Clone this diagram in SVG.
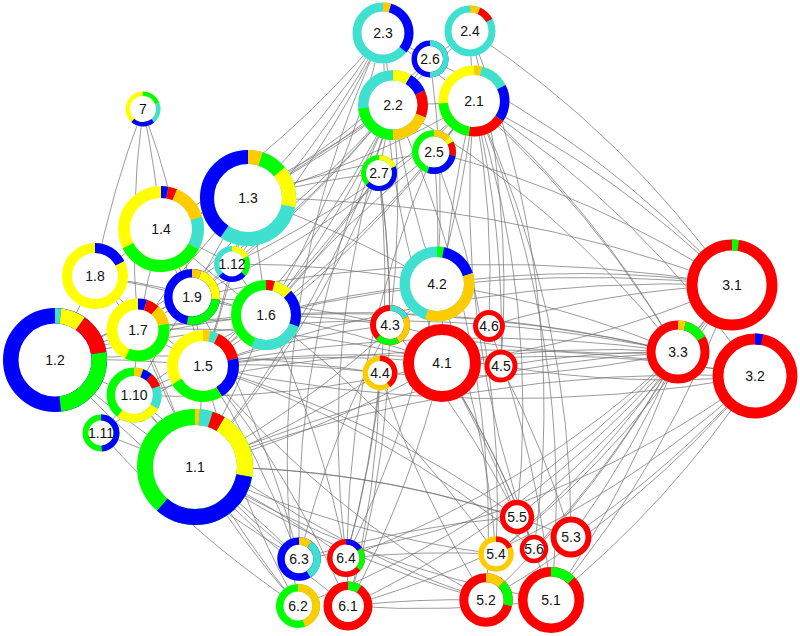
<svg xmlns="http://www.w3.org/2000/svg" width="800" height="636" viewBox="0 0 800 636">
<style>
.e path{fill:none;stroke:#707070;stroke-width:0.7}
.bg{fill:#fff;stroke:none}
.s{fill:none}
.b{stroke:#0000ff}.c{stroke:#40e0d0}.y{stroke:#ffff00}.o{stroke:#ffcc00}.r{stroke:#ff0000}.g{stroke:#00ff00}
text{font-family:"Liberation Sans",Arial,sans-serif;font-size:14px;text-anchor:middle;fill:#111;stroke:none}
</style>
<rect width="800" height="636" fill="#fff"/>
<g id="edges" class="e">
<path d="M143 109A1000 1000 0 0 0 95 276"/><path d="M143 109A1000 1000 0 0 1 161 229"/><path d="M143 109A1000 1000 0 0 0 138 330"/><path d="M143 109A1000 1000 0 0 1 192 297"/>
<path d="M55 360A1000 1000 0 0 1 138 330"/><path d="M55 360A1000 1000 0 0 1 203 366"/><path d="M55 360A1000 1000 0 0 0 134 395"/><path d="M55 360A1000 1000 0 0 0 195 467"/><path d="M55 360A1000 1000 0 0 1 95 276"/><path d="M55 360A1000 1000 0 0 1 192 297"/><path d="M55 360A1000 1000 0 0 1 266 315"/>
<path d="M95 276A1000 1000 0 0 1 138 330"/><path d="M95 276A1000 1000 0 0 1 192 297"/><path d="M95 276A1000 1000 0 0 1 161 229"/><path d="M95 276A1000 1000 0 0 0 203 366"/><path d="M95 276A1000 1000 0 0 1 266 315"/>
<path d="M161 229A1000 1000 0 0 1 192 297"/><path d="M161 229A1000 1000 0 0 0 138 330"/><path d="M161 229A1000 1000 0 0 1 203 366"/><path d="M161 229A1000 1000 0 0 1 232 264"/><path d="M161 229A1000 1000 0 0 0 266 315"/><path d="M161 229A1000 1000 0 0 1 248 198"/>
<path d="M248 198A1000 1000 0 0 1 232 264"/><path d="M248 198A1000 1000 0 0 1 266 315"/><path d="M248 198A1000 1000 0 0 0 192 297"/><path d="M248 198A1000 1000 0 0 1 203 366"/><path d="M248 198A1000 1000 0 0 0 138 330"/>
<path d="M232 264A1000 1000 0 0 1 266 315"/><path d="M232 264A1000 1000 0 0 0 192 297"/><path d="M232 264A1000 1000 0 0 1 203 366"/>
<path d="M192 297A1000 1000 0 0 0 138 330"/><path d="M192 297A1000 1000 0 0 1 203 366"/><path d="M192 297A1000 1000 0 0 1 266 315"/><path d="M192 297A1000 1000 0 0 0 134 395"/>
<path d="M138 330A1000 1000 0 0 1 203 366"/><path d="M138 330A1000 1000 0 0 0 134 395"/><path d="M138 330A1000 1000 0 0 1 195 467"/><path d="M138 330A1000 1000 0 0 1 266 315"/>
<path d="M203 366A1000 1000 0 0 0 134 395"/><path d="M203 366A1000 1000 0 0 1 195 467"/><path d="M203 366A1000 1000 0 0 1 266 315"/><path d="M203 366A1000 1000 0 0 0 101 433"/>
<path d="M266 315A1000 1000 0 0 1 195 467"/><path d="M266 315A1000 1000 0 0 0 134 395"/><path d="M134 395A1000 1000 0 0 0 101 433"/><path d="M134 395A1000 1000 0 0 0 195 467"/><path d="M101 433A1000 1000 0 0 0 195 467"/>
<path d="M248 198A1000 1000 0 0 0 393 105"/><path d="M248 198A1000 1000 0 0 0 383 33"/><path d="M248 198A1000 1000 0 0 0 474 101"/><path d="M248 198A1000 1000 0 0 1 379 173"/><path d="M248 198A1000 1000 0 0 1 434 152"/><path d="M248 198A1000 1000 0 0 0 430 59"/><path d="M248 198A1000 1000 0 0 0 470 31"/>
<path d="M266 315A1000 1000 0 0 0 393 105"/><path d="M266 315A1000 1000 0 0 0 474 101"/><path d="M266 315A1000 1000 0 0 0 383 33"/><path d="M266 315A1000 1000 0 0 1 434 152"/><path d="M266 315A1000 1000 0 0 0 379 173"/>
<path d="M232 264A1000 1000 0 0 0 393 105"/><path d="M232 264A1000 1000 0 0 0 474 101"/><path d="M232 264A1000 1000 0 0 0 383 33"/>
<path d="M161 229A1000 1000 0 0 0 393 105"/><path d="M161 229A1000 1000 0 0 0 383 33"/>
<path d="M203 366A1000 1000 0 0 0 393 105"/><path d="M203 366A1000 1000 0 0 0 474 101"/><path d="M203 366A1000 1000 0 0 0 379 173"/>
<path d="M192 297A1000 1000 0 0 0 393 105"/><path d="M192 297A1000 1000 0 0 0 474 101"/>
<path d="M195 467A1000 1000 0 0 0 393 105"/><path d="M195 467A1000 1000 0 0 0 379 173"/><path d="M138 330A1000 1000 0 0 0 383 33"/><path d="M55 360A1000 1000 0 0 0 393 105"/>
<path d="M203 366A1400 1400 0 0 1 678 352"/><path d="M203 366A1400 1400 0 0 1 732 285"/><path d="M203 366A1400 1400 0 0 0 755 376"/><path d="M55 360A1400 1400 0 0 1 678 352"/><path d="M266 315A1400 1400 0 0 1 732 285"/><path d="M266 315A1400 1400 0 0 1 678 352"/>
<path d="M195 467A1400 1400 0 0 1 755 376"/><path d="M195 467A1400 1400 0 0 1 678 352"/><path d="M192 297A1400 1400 0 0 1 732 285"/><path d="M138 330A1400 1400 0 0 1 678 352"/><path d="M248 198A1400 1400 0 0 1 732 285"/><path d="M134 395A1400 1400 0 0 1 755 376"/>
<path d="M203 366A1000 1000 0 0 1 442 363"/><path d="M203 366A1000 1000 0 0 1 380 373"/><path d="M203 366A1000 1000 0 0 1 390 325"/><path d="M266 315A1000 1000 0 0 1 390 325"/><path d="M266 315A1000 1000 0 0 1 437 284"/><path d="M266 315A1000 1000 0 0 1 442 363"/>
<path d="M248 198A1000 1000 0 0 1 437 284"/><path d="M195 467A1000 1000 0 0 0 442 363"/><path d="M195 467A1000 1000 0 0 0 380 373"/><path d="M195 467A1000 1000 0 0 0 437 284"/><path d="M192 297A1000 1000 0 0 1 390 325"/><path d="M138 330A1000 1000 0 0 1 442 363"/>
<path d="M55 360A1400 1400 0 0 1 380 373"/><path d="M232 264A1000 1000 0 0 1 437 284"/><path d="M134 395A1000 1000 0 0 0 442 363"/><path d="M203 366A1000 1000 0 0 1 501 366"/>
<path d="M195 467A1000 1000 0 0 0 486 600"/><path d="M195 467A1000 1000 0 0 0 496 554"/><path d="M195 467A1000 1000 0 0 1 517 517"/><path d="M195 467A1000 1000 0 0 0 551 600"/><path d="M203 366A1000 1000 0 0 1 517 517"/>
<path d="M203 366A1000 1000 0 0 0 486 600"/><path d="M266 315A1000 1000 0 0 1 496 554"/><path d="M134 395A1000 1000 0 0 0 486 600"/><path d="M195 467A1000 1000 0 0 1 571 537"/><path d="M203 366A1000 1000 0 0 1 534 549"/>
<path d="M195 467A1000 1000 0 0 1 299 559"/><path d="M195 467A1000 1000 0 0 0 298 606"/><path d="M195 467A1000 1000 0 0 0 348 606"/><path d="M195 467A1000 1000 0 0 1 346 558"/><path d="M203 366A1000 1000 0 0 1 299 559"/><path d="M203 366A1000 1000 0 0 1 348 606"/>
<path d="M134 395A1000 1000 0 0 0 299 559"/><path d="M55 360A1000 1000 0 0 0 299 559"/><path d="M138 330A1000 1000 0 0 0 298 606"/><path d="M266 315A1000 1000 0 0 1 346 558"/><path d="M101 433A1000 1000 0 0 0 298 606"/><path d="M192 297A1000 1000 0 0 1 299 559"/><path d="M203 366A1000 1000 0 0 0 298 606"/>
<path d="M474 101A1000 1000 0 0 1 393 105"/><path d="M474 101A1000 1000 0 0 1 470 31"/><path d="M393 105A1000 1000 0 0 1 383 33"/><path d="M393 105A1000 1000 0 0 1 430 59"/><path d="M474 101A1000 1000 0 0 1 434 152"/><path d="M393 105A1000 1000 0 0 0 379 173"/><path d="M383 33A1000 1000 0 0 1 430 59"/><path d="M470 31A1000 1000 0 0 1 430 59"/>
<path d="M474 101A1000 1000 0 0 1 732 285"/><path d="M474 101A1000 1000 0 0 1 678 352"/><path d="M470 31A1000 1000 0 0 1 732 285"/><path d="M393 105A1000 1000 0 0 1 678 352"/><path d="M474 101A1000 1000 0 0 1 755 376"/><path d="M434 152A1000 1000 0 0 1 732 285"/><path d="M383 33A1000 1000 0 0 1 678 352"/><path d="M430 59A1000 1000 0 0 1 732 285"/>
<path d="M474 101A1000 1000 0 0 1 437 284"/><path d="M474 101A1000 1000 0 0 1 489 326"/><path d="M474 101A1000 1000 0 0 1 501 366"/><path d="M474 101A1000 1000 0 0 0 442 363"/><path d="M393 105A1000 1000 0 0 1 390 325"/><path d="M434 152A1000 1000 0 0 1 437 284"/>
<path d="M379 173A1000 1000 0 0 1 390 325"/><path d="M393 105A1000 1000 0 0 0 437 284"/><path d="M383 33A1000 1000 0 0 0 442 363"/><path d="M470 31A1000 1000 0 0 1 501 366"/><path d="M430 59A1000 1000 0 0 1 437 284"/>
<path d="M474 101A1000 1000 0 0 1 517 517"/><path d="M474 101A1000 1000 0 0 1 551 600"/><path d="M474 101A1000 1000 0 0 1 571 537"/><path d="M434 152A1000 1000 0 0 1 496 554"/><path d="M393 105A1000 1000 0 0 1 486 600"/><path d="M470 31A1000 1000 0 0 1 534 549"/><path d="M474 101A1000 1000 0 0 0 534 549"/>
<path d="M379 173A1000 1000 0 0 1 346 558"/><path d="M379 173A1000 1000 0 0 1 348 606"/><path d="M393 105A1000 1000 0 0 0 299 559"/><path d="M383 33A1000 1000 0 0 0 298 606"/><path d="M434 152A1000 1000 0 0 0 348 606"/><path d="M393 105A1000 1000 0 0 0 346 558"/>
<path d="M732 285A1000 1000 0 0 1 678 352"/>
<path d="M678 352A1000 1000 0 0 0 442 363"/><path d="M678 352A1000 1000 0 0 0 501 366"/><path d="M732 285A1000 1000 0 0 0 437 284"/><path d="M732 285A1000 1000 0 0 1 442 363"/><path d="M755 376A1000 1000 0 0 1 501 366"/>
<path d="M678 352A1000 1000 0 0 1 380 373"/><path d="M732 285A1000 1000 0 0 0 489 326"/><path d="M755 376A1000 1000 0 0 0 442 363"/><path d="M678 352A1000 1000 0 0 0 437 284"/><path d="M678 352A1000 1000 0 0 1 390 325"/>
<path d="M678 352A1000 1000 0 0 1 551 600"/><path d="M678 352A1000 1000 0 0 1 486 600"/><path d="M678 352A1000 1000 0 0 1 571 537"/><path d="M678 352A1000 1000 0 0 1 496 554"/><path d="M755 376A1000 1000 0 0 1 551 600"/><path d="M755 376A1000 1000 0 0 1 571 537"/>
<path d="M732 285A1000 1000 0 0 1 551 600"/><path d="M732 285A1000 1000 0 0 1 517 517"/><path d="M755 376A1000 1000 0 0 1 486 600"/><path d="M678 352A1000 1000 0 0 1 534 549"/><path d="M732 285A1000 1000 0 0 1 496 554"/>
<path d="M755 376A1000 1000 0 0 1 348 606"/><path d="M678 352A1000 1000 0 0 1 346 558"/><path d="M678 352A1000 1000 0 0 1 298 606"/><path d="M732 285A1000 1000 0 0 1 348 606"/><path d="M755 376A1000 1000 0 0 1 299 559"/>
<path d="M442 363A1000 1000 0 0 1 517 517"/><path d="M442 363A1000 1000 0 0 1 551 600"/><path d="M437 284A1000 1000 0 0 1 496 554"/><path d="M501 366A1000 1000 0 0 1 571 537"/><path d="M380 373A1000 1000 0 0 0 486 600"/><path d="M489 326A1000 1000 0 0 1 551 600"/><path d="M390 325A1000 1000 0 0 1 517 517"/><path d="M442 363A1000 1000 0 0 1 534 549"/>
<path d="M380 373A1000 1000 0 0 1 346 558"/><path d="M390 325A1000 1000 0 0 0 299 559"/><path d="M442 363A1000 1000 0 0 1 348 606"/><path d="M437 284A1000 1000 0 0 1 346 558"/><path d="M380 373A1000 1000 0 0 1 348 606"/>
<path d="M348 606A1000 1000 0 0 1 486 600"/><path d="M346 558A1000 1000 0 0 1 496 554"/><path d="M348 606A1000 1000 0 0 0 551 600"/><path d="M299 559A1000 1000 0 0 1 517 517"/>
</g>

<g id="n7" transform="translate(143 109)" stroke-width="4.5"><circle class="bg" r="17.5"/><g transform="rotate(-90)"><circle class="s y" r="15.25"/><circle class="s g" r="15.25" pathLength="360" stroke-dasharray="69 360"/><circle class="s c" r="15.25" pathLength="360" stroke-dasharray="71 360" stroke-dashoffset="-69"/><circle class="s b" r="15.25" pathLength="360" stroke-dasharray="82 360" stroke-dashoffset="-140"/></g><text y="5">7</text></g>

<g id="n1_1" transform="translate(195 467)" stroke-width="16"><circle class="bg" r="58"/><g transform="rotate(-90)"><circle class="s g" r="50"/><circle class="s o" r="50" pathLength="360" stroke-dasharray="5 360"/><circle class="s c" r="50" pathLength="360" stroke-dasharray="13 360" stroke-dashoffset="-5"/><circle class="s r" r="50" pathLength="360" stroke-dasharray="13 360" stroke-dashoffset="-18"/><circle class="s y" r="50" pathLength="360" stroke-dasharray="69 360" stroke-dashoffset="-31"/><circle class="s b" r="50" pathLength="360" stroke-dasharray="121 360" stroke-dashoffset="-100"/></g><text y="5">1.1</text></g>

<g id="n1_2" transform="translate(55 360)" stroke-width="15.5"><circle class="bg" r="52"/><g transform="rotate(-90)"><circle class="s b" r="44.25"/><circle class="s c" r="44.25" pathLength="360" stroke-dasharray="7 360"/><circle class="s y" r="44.25" pathLength="360" stroke-dasharray="28 360" stroke-dashoffset="-7"/><circle class="s r" r="44.25" pathLength="360" stroke-dasharray="46 360" stroke-dashoffset="-35"/><circle class="s g" r="44.25" pathLength="360" stroke-dasharray="92 360" stroke-dashoffset="-81"/></g><text y="5">1.2</text></g>

<g id="n1_3" transform="translate(248 198)" stroke-width="14"><circle class="bg" r="48"/><g transform="rotate(-90)"><circle class="s c" r="41"/><circle class="s o" r="41" pathLength="360" stroke-dasharray="18 360"/><circle class="s g" r="41" pathLength="360" stroke-dasharray="32 360" stroke-dashoffset="-18"/><circle class="s y" r="41" pathLength="360" stroke-dasharray="51 360" stroke-dashoffset="-50"/><circle class="s b" r="41" pathLength="360" stroke-dasharray="145 360" stroke-dashoffset="-215"/></g><text y="5">1.3</text></g>

<g id="n1_4" transform="translate(161 229)" stroke-width="12"><circle class="bg" r="43"/><g transform="rotate(-90)"><circle class="s y" r="37"/><circle class="s b" r="37" pathLength="360" stroke-dasharray="10 360"/><circle class="s r" r="37" pathLength="360" stroke-dasharray="12 360" stroke-dashoffset="-10"/><circle class="s o" r="37" pathLength="360" stroke-dasharray="51 360" stroke-dashoffset="-22"/><circle class="s c" r="37" pathLength="360" stroke-dasharray="45 360" stroke-dashoffset="-73"/><circle class="s g" r="37" pathLength="360" stroke-dasharray="125 360" stroke-dashoffset="-118"/></g><text y="5">1.4</text></g>

<g id="n1_5" transform="translate(203 366)" stroke-width="11"><circle class="bg" r="36"/><g transform="rotate(-90)"><circle class="s y" r="30.5"/><circle class="s o" r="30.5" pathLength="360" stroke-dasharray="12 360"/><circle class="s c" r="30.5" pathLength="360" stroke-dasharray="14 360" stroke-dashoffset="-12"/><circle class="s r" r="30.5" pathLength="360" stroke-dasharray="51 360" stroke-dashoffset="-26"/><circle class="s b" r="30.5" pathLength="360" stroke-dasharray="71 360" stroke-dashoffset="-77"/><circle class="s g" r="30.5" pathLength="360" stroke-dasharray="91 360" stroke-dashoffset="-148"/></g><text y="5">1.5</text></g>

<g id="n1_6" transform="translate(266 315)" stroke-width="10"><circle class="bg" r="35"/><g transform="rotate(-90)"><circle class="s g" r="30"/><circle class="s r" r="30" pathLength="360" stroke-dasharray="15 360"/><circle class="s y" r="30" pathLength="360" stroke-dasharray="31 360" stroke-dashoffset="-15"/><circle class="s b" r="30" pathLength="360" stroke-dasharray="64 360" stroke-dashoffset="-46"/><circle class="s c" r="30" pathLength="360" stroke-dasharray="95 360" stroke-dashoffset="-110"/></g><text y="5">1.6</text></g>

<g id="n1_7" transform="translate(138 330)" stroke-width="11"><circle class="bg" r="31.5"/><g transform="rotate(-90)"><circle class="s y" r="26"/><circle class="s b" r="26" pathLength="360" stroke-dasharray="17 360"/><circle class="s r" r="26" pathLength="360" stroke-dasharray="24 360" stroke-dashoffset="-17"/><circle class="s o" r="26" pathLength="360" stroke-dasharray="37 360" stroke-dashoffset="-41"/><circle class="s g" r="26" pathLength="360" stroke-dasharray="126 360" stroke-dashoffset="-78"/></g><text y="5">1.7</text></g>

<g id="n1_8" transform="translate(95 276)" stroke-width="10"><circle class="bg" r="33"/><g transform="rotate(-90)"><circle class="s y" r="28"/><circle class="s b" r="28" pathLength="360" stroke-dasharray="63 360"/></g><text y="5">1.8</text></g>

<g id="n1_9" transform="translate(192 297)" stroke-width="8.5"><circle class="bg" r="28"/><g transform="rotate(-90)"><circle class="s b" r="23.75"/><circle class="s o" r="23.75" pathLength="360" stroke-dasharray="20 360"/><circle class="s y" r="23.75" pathLength="360" stroke-dasharray="76 360" stroke-dashoffset="-20"/><circle class="s g" r="23.75" pathLength="360" stroke-dasharray="95 360" stroke-dashoffset="-96"/></g><text y="5">1.9</text></g>

<g id="n1_10" transform="translate(134 395)" stroke-width="8.5"><circle class="bg" r="27.5"/><g transform="rotate(-90)"><circle class="s g" r="23.25"/><circle class="s o" r="23.25" pathLength="360" stroke-dasharray="20 360"/><circle class="s b" r="23.25" pathLength="360" stroke-dasharray="21 360" stroke-dashoffset="-20"/><circle class="s r" r="23.25" pathLength="360" stroke-dasharray="30 360" stroke-dashoffset="-41"/><circle class="s c" r="23.25" pathLength="360" stroke-dasharray="49 360" stroke-dashoffset="-71"/><circle class="s y" r="23.25" pathLength="360" stroke-dasharray="98 360" stroke-dashoffset="-120"/></g><text y="5">1.10</text></g>

<g id="n1_11" transform="translate(101 433)" stroke-width="6"><circle class="bg" r="18.5"/><g transform="rotate(-90)"><circle class="s g" r="15.5"/><circle class="s b" r="15.5" pathLength="360" stroke-dasharray="177 360"/></g><text y="5">1.11</text></g>

<g id="n1_12" transform="translate(232 264)" stroke-width="5.5"><circle class="bg" r="18"/><g transform="rotate(-90)"><circle class="s c" r="15.25"/><circle class="s y" r="15.25" pathLength="360" stroke-dasharray="64 360"/><circle class="s g" r="15.25" pathLength="360" stroke-dasharray="68 360" stroke-dashoffset="-64"/><circle class="s b" r="15.25" pathLength="360" stroke-dasharray="95 360" stroke-dashoffset="-132"/></g><text y="5">1.12</text></g>

<g id="n2_1" transform="translate(474 101)" stroke-width="9.5"><circle class="bg" r="35.5"/><g transform="rotate(-90)"><circle class="s y" r="30.75"/><circle class="s o" r="30.75" pathLength="360" stroke-dasharray="13 360"/><circle class="s c" r="30.75" pathLength="360" stroke-dasharray="50 360" stroke-dashoffset="-13"/><circle class="s b" r="30.75" pathLength="360" stroke-dasharray="62 360" stroke-dashoffset="-63"/><circle class="s r" r="30.75" pathLength="360" stroke-dasharray="64 360" stroke-dashoffset="-125"/><circle class="s g" r="30.75" pathLength="360" stroke-dasharray="77 360" stroke-dashoffset="-189"/></g><text y="5">2.1</text></g>

<g id="n2_2" transform="translate(393 105)" stroke-width="10.5"><circle class="bg" r="35"/><g transform="rotate(-90)"><circle class="s c" r="29.75"/><circle class="s y" r="29.75" pathLength="360" stroke-dasharray="31 360"/><circle class="s b" r="29.75" pathLength="360" stroke-dasharray="34 360" stroke-dashoffset="-31"/><circle class="s r" r="29.75" pathLength="360" stroke-dasharray="46 360" stroke-dashoffset="-65"/><circle class="s o" r="29.75" pathLength="360" stroke-dasharray="69 360" stroke-dashoffset="-111"/><circle class="s g" r="29.75" pathLength="360" stroke-dasharray="84 360" stroke-dashoffset="-180"/></g><text y="5">2.2</text></g>

<g id="n2_3" transform="translate(383 33)" stroke-width="9"><circle class="bg" r="30.5"/><g transform="rotate(-90)"><circle class="s c" r="26"/><circle class="s o" r="26" pathLength="360" stroke-dasharray="16 360"/><circle class="s b" r="26" pathLength="360" stroke-dasharray="114 360" stroke-dashoffset="-16"/></g><text y="5">2.3</text></g>

<g id="n2_4" transform="translate(470 31)" stroke-width="7"><circle class="bg" r="25.5"/><g transform="rotate(-90)"><circle class="s c" r="22"/><circle class="s o" r="22" pathLength="360" stroke-dasharray="24 360"/><circle class="s r" r="22" pathLength="360" stroke-dasharray="37 360" stroke-dashoffset="-24"/></g><text y="5">2.4</text></g>

<g id="n2_5" transform="translate(434 152)" stroke-width="6.5"><circle class="bg" r="22"/><g transform="rotate(-90)"><circle class="s g" r="18.75"/><circle class="s o" r="18.75" pathLength="360" stroke-dasharray="45 360"/><circle class="s y" r="18.75" pathLength="360" stroke-dasharray="16 360" stroke-dashoffset="-45"/><circle class="s r" r="18.75" pathLength="360" stroke-dasharray="40 360" stroke-dashoffset="-61"/><circle class="s b" r="18.75" pathLength="360" stroke-dasharray="97 360" stroke-dashoffset="-101"/></g><text y="5">2.5</text></g>

<g id="n2_6" transform="translate(430 59)" stroke-width="5.5"><circle class="bg" r="18.5"/><g transform="rotate(-90)"><circle class="s b" r="15.75"/><circle class="s c" r="15.75" pathLength="360" stroke-dasharray="180 360"/></g><text y="5">2.6</text></g>

<g id="n2_7" transform="translate(379 173)" stroke-width="5"><circle class="bg" r="18"/><g transform="rotate(-90)"><circle class="s g" r="15.5"/><circle class="s y" r="15.5" pathLength="360" stroke-dasharray="68 360"/><circle class="s b" r="15.5" pathLength="360" stroke-dasharray="159 360" stroke-dashoffset="-68"/></g><text y="5">2.7</text></g>

<g id="n3_1" transform="translate(732 285)" stroke-width="11"><circle class="bg" r="45.5"/><g transform="rotate(-90)"><circle class="s r" r="40"/><circle class="s g" r="40" pathLength="360" stroke-dasharray="9 360"/></g><text y="5">3.1</text></g>

<g id="n3_2" transform="translate(755 376)" stroke-width="11"><circle class="bg" r="42.5"/><g transform="rotate(-90)"><circle class="s r" r="37"/><circle class="s b" r="37" pathLength="360" stroke-dasharray="11 360"/></g><text y="5">3.2</text></g>

<g id="n3_3" transform="translate(678 352)" stroke-width="9"><circle class="bg" r="31.5"/><g transform="rotate(-90)"><circle class="s r" r="27"/><circle class="s o" r="27" pathLength="360" stroke-dasharray="15 360"/><circle class="s g" r="27" pathLength="360" stroke-dasharray="45 360" stroke-dashoffset="-15"/></g><text y="5">3.3</text></g>

<g id="n4_1" transform="translate(442 363)" stroke-width="11"><circle class="bg" r="39"/><circle class="s r" r="33.5"/><text y="5">4.1</text></g>

<g id="n4_2" transform="translate(437 284)" stroke-width="10.5"><circle class="bg" r="37.5"/><g transform="rotate(-90)"><circle class="s c" r="32.25"/><circle class="s g" r="32.25" pathLength="360" stroke-dasharray="11 360"/><circle class="s b" r="32.25" pathLength="360" stroke-dasharray="62 360" stroke-dashoffset="-11"/><circle class="s o" r="32.25" pathLength="360" stroke-dasharray="126 360" stroke-dashoffset="-73"/></g><text y="5">4.2</text></g>

<g id="n4_3" transform="translate(390 325)" stroke-width="6"><circle class="bg" r="20"/><g transform="rotate(-90)"><circle class="s r" r="17"/><circle class="s c" r="17" pathLength="360" stroke-dasharray="65 360"/><circle class="s o" r="17" pathLength="360" stroke-dasharray="87 360" stroke-dashoffset="-65"/><circle class="s g" r="17" pathLength="360" stroke-dasharray="73 360" stroke-dashoffset="-152"/></g><text y="5">4.3</text></g>

<g id="n4_4" transform="translate(380 373)" stroke-width="5.5"><circle class="bg" r="17.5"/><g transform="rotate(-90)"><circle class="s o" r="14.75"/><circle class="s r" r="14.75" pathLength="360" stroke-dasharray="144 360"/></g><text y="5">4.4</text></g>

<g id="n4_5" transform="translate(501 366)" stroke-width="5"><circle class="bg" r="16.5"/><circle class="s r" r="14"/><text y="5">4.5</text></g>

<g id="n4_6" transform="translate(489 326)" stroke-width="5"><circle class="bg" r="16"/><circle class="s r" r="13.5"/><text y="5">4.6</text></g>

<g id="n5_1" transform="translate(551 600)" stroke-width="9.5"><circle class="bg" r="33"/><g transform="rotate(-90)"><circle class="s r" r="28.25"/><circle class="s g" r="28.25" pathLength="360" stroke-dasharray="46 360"/></g><text y="5">5.1</text></g>

<g id="n5_2" transform="translate(486 600)" stroke-width="9"><circle class="bg" r="26.7"/><g transform="rotate(-90)"><circle class="s r" r="22.2"/><circle class="s o" r="22.2" pathLength="360" stroke-dasharray="44 360"/><circle class="s g" r="22.2" pathLength="360" stroke-dasharray="60 360" stroke-dashoffset="-44"/></g><text y="5">5.2</text></g>

<g id="n5_3" transform="translate(571 537)" stroke-width="6"><circle class="bg" r="20.5"/><circle class="s r" r="17.5"/><text y="5">5.3</text></g>

<g id="n5_4" transform="translate(496 554)" stroke-width="5.5"><circle class="bg" r="17.8"/><g transform="rotate(-90)"><circle class="s o" r="15"/><circle class="s r" r="15" pathLength="360" stroke-dasharray="65 360"/></g><text y="5">5.4</text></g>

<g id="n5_5" transform="translate(517 517)" stroke-width="5.5"><circle class="bg" r="17.3"/><circle class="s r" r="14.5"/><text y="5">5.5</text></g>

<g id="n5_6" transform="translate(534 549)" stroke-width="4.5"><circle class="bg" r="14.2"/><circle class="s r" r="12"/><text y="5">5.6</text></g>

<g id="n6_1" transform="translate(348 606)" stroke-width="8.5"><circle class="bg" r="24.5"/><g transform="rotate(-90)"><circle class="s r" r="20.25"/><circle class="s g" r="20.25" pathLength="360" stroke-dasharray="33 360"/></g><text y="5">6.1</text></g>

<g id="n6_2" transform="translate(298 606)" stroke-width="7.5"><circle class="bg" r="22"/><g transform="rotate(-90)"><circle class="s g" r="18.25"/><circle class="s o" r="18.25" pathLength="360" stroke-dasharray="161 360"/></g><text y="5">6.2</text></g>

<g id="n6_3" transform="translate(299 559)" stroke-width="7.5"><circle class="bg" r="21.7"/><g transform="rotate(-90)"><circle class="s b" r="18"/><circle class="s o" r="18" pathLength="360" stroke-dasharray="36 360"/><circle class="s c" r="18" pathLength="360" stroke-dasharray="112 360" stroke-dashoffset="-36"/></g><text y="5">6.3</text></g>

<g id="n6_4" transform="translate(346 558)" stroke-width="5.5"><circle class="bg" r="19"/><g transform="rotate(-90)"><circle class="s r" r="16.25"/><circle class="s b" r="16.25" pathLength="360" stroke-dasharray="57 360"/><circle class="s g" r="16.25" pathLength="360" stroke-dasharray="74 360" stroke-dashoffset="-57"/></g><text y="5">6.4</text></g>
</svg>
